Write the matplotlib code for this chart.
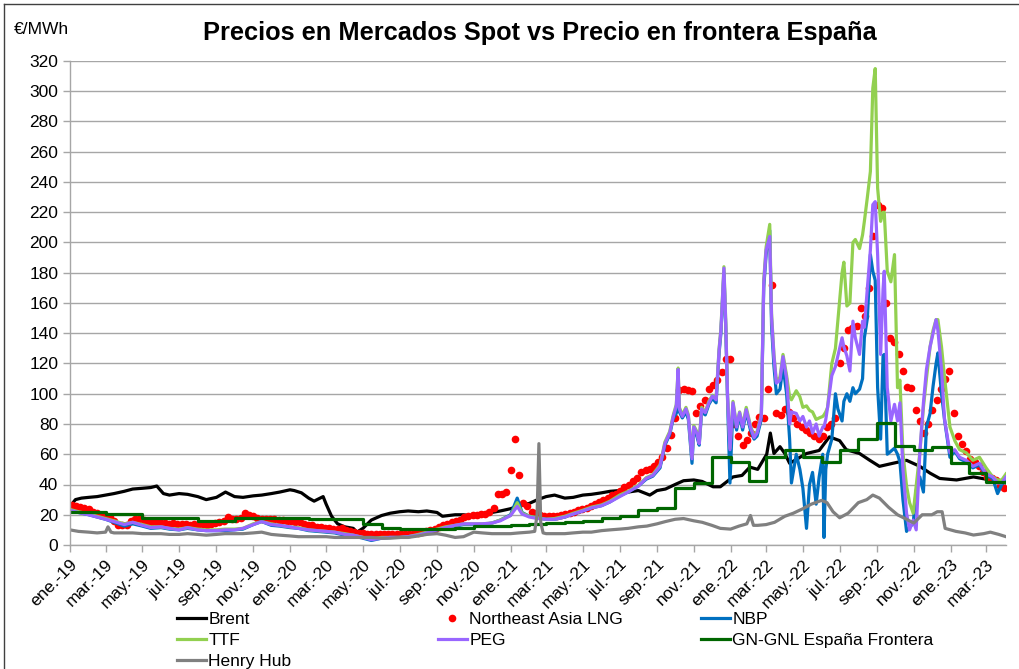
import matplotlib
matplotlib.use('Agg')
import matplotlib.pyplot as plt
import pandas as pd
from matplotlib.lines import Line2D

plt.rcParams['font.family'] = ['Liberation Sans', 'DejaVu Sans']

# ---------------- DATA ----------------
title = 'Precios en Mercados Spot vs Precio en frontera España'
unit_label = '€/MWh'

tick_dates = ['2019-01-01', '2019-03-01', '2019-05-01', '2019-07-01', '2019-09-01', '2019-11-01',
              '2020-01-01', '2020-03-01', '2020-05-01', '2020-07-01', '2020-09-01', '2020-11-01',
              '2021-01-01', '2021-03-01', '2021-05-01', '2021-07-01', '2021-09-01', '2021-11-01',
              '2022-01-01', '2022-03-01', '2022-05-01', '2022-07-01', '2022-09-01', '2022-11-01',
              '2023-01-01', '2023-03-01']
tick_labels = ['ene.-19', 'mar.-19', 'may.-19', 'jul.-19', 'sep.-19', 'nov.-19',
               'ene.-20', 'mar.-20', 'may.-20', 'jul.-20', 'sep.-20', 'nov.-20',
               'ene.-21', 'mar.-21', 'may.-21', 'jul.-21', 'sep.-21', 'nov.-21',
               'ene.-22', 'mar.-22', 'may.-22', 'jul.-22', 'sep.-22', 'nov.-22',
               'ene.-23', 'mar.-23']

# Brent
brent_dates = ['2019-01-01', '2019-01-10', '2019-01-20', '2019-02-01', '2019-02-15', '2019-03-01', '2019-03-15',
               '2019-04-01', '2019-04-15', '2019-05-01', '2019-05-15', '2019-05-25', '2019-06-05', '2019-06-15',
               '2019-07-01', '2019-07-15', '2019-08-01', '2019-08-15', '2019-09-01', '2019-09-16', '2019-10-01',
               '2019-10-15', '2019-11-01', '2019-11-15', '2019-12-01', '2019-12-15', '2020-01-01', '2020-01-08',
               '2020-01-20', '2020-02-01', '2020-02-10', '2020-02-25', '2020-03-01', '2020-03-10', '2020-03-20',
               '2020-04-01', '2020-04-15', '2020-04-21', '2020-05-01', '2020-05-15', '2020-06-01', '2020-06-15',
               '2020-07-01', '2020-07-15', '2020-08-01', '2020-08-15', '2020-09-01', '2020-09-10', '2020-10-01',
               '2020-10-15', '2020-11-01', '2020-11-15', '2020-12-01', '2020-12-15', '2021-01-01', '2021-01-15',
               '2021-02-01', '2021-02-15', '2021-03-01', '2021-03-15', '2021-04-01', '2021-04-15', '2021-05-01',
               '2021-05-15', '2021-06-01', '2021-06-15', '2021-07-01', '2021-07-15', '2021-08-01', '2021-08-20',
               '2021-09-01', '2021-09-15', '2021-10-01', '2021-10-15', '2021-11-01', '2021-11-15', '2021-12-03',
               '2021-12-15', '2022-01-05', '2022-01-20', '2022-02-02', '2022-02-15', '2022-03-02', '2022-03-08',
               '2022-03-14', '2022-03-24', '2022-04-01', '2022-04-09', '2022-05-07', '2022-05-28', '2022-06-14',
               '2022-07-01', '2022-07-12', '2022-08-03', '2022-08-20', '2022-09-05', '2022-09-27', '2022-10-20',
               '2022-11-11', '2022-11-28', '2022-12-14', '2023-01-11', '2023-02-08', '2023-03-08', '2023-04-03']
brent_vals = [25.5, 30, 31, 31.5, 32, 33, 34,
              35.5, 37, 37.5, 38, 39, 34, 33,
              34, 33.5, 32, 30, 31.5, 35, 32,
              31.5, 32.5, 33, 34, 35, 36.5, 36,
              34.5, 31, 29, 32, 27, 19, 14,
              12, 11, 8.5, 11, 16.5, 19.5, 21,
              22, 22.5, 22, 22.5, 21.5, 19, 20,
              20, 19, 20.5, 21.5, 22.5, 24, 26,
              27.5, 30, 32, 33, 31, 31.5, 33,
              33.5, 34.5, 35.5, 36, 35, 36, 33,
              36, 37, 40, 42.5, 43, 42, 38.5,
              38.5, 45, 46, 51.5, 50, 60, 74,
              60.5, 65, 60.5, 54, 60.5, 62.5, 71.5,
              69, 63, 60.5, 56, 52, 54, 56,
              52, 47.5, 44, 43, 45, 43, 41]

# Northeast Asia LNG (weekly, Fridays from 2019-01-04)
lng_2019 = [26.5, 25.5, 25, 24.5, 23.5, 22, 21, 20, 19.5, 18.5, 16, 13.5, 13,
            13.5, 16, 17, 17, 16.5, 15.5, 15.5, 15, 15, 14.5, 14, 14.5, 14,
            14, 14, 13.5, 14, 13.5, 14, 13.5, 14, 14.5, 15, 16, 18.5, 17.5,
            17.5, 18, 21, 20, 19, 18, 17.5, 17.5, 17, 17, 16.5, 16.5, 16]
lng_2020 = [16, 15.5, 15, 14, 13.5, 13, 12, 12, 11.5, 11, 10.5, 10.5, 11,
            10, 9, 8.5, 8, 8, 7.5, 7.5, 7, 7, 7, 7, 7.5, 7.5,
            7.5, 7.5, 7.5, 8, 8, 8.5, 9, 10, 10.5, 12, 13, 14, 15,
            16, 16.5, 18.5, 19.5, 20, 20, 20.5, 20.5, 22, 24.5, 33.5, 34, 35]
lng_2021 = [49.5, 70, 46.5, 28, 25.5, 21.5, 21, 20, 19, 19, 19.5, 19.5, 20,
            20.5, 21, 22, 23, 24, 24.5, 25.5, 27, 28.5, 29.5, 31, 33, 34,
            36, 38.5, 40, 42, 44, 48, 49.5, 50.5, 52, 55, 58.5, 64, 73,
            84, 102.5, 103, 102.5, 101.5, 87.5, 92, 96, 103, 106, 109, 114.5, 123, 123]
lng_2022 = [80, 72, 66, 69.5, 74, 80, 84.5, 84, 103, 172, 87, 86,
            90, 88, 84, 80, 78, 76, 74, 72, 70, 72, 78, 80, 84,
            120, 130, 142, 143.5, 145, 156.5, 151.5, 170, 204.5, 225, 223, 160, 137, 134,
            126, 115, 104.5, 103.5, 89, 82, 74, 80, 89, 96, 103, 110, 115]
lng_2023 = [87, 72, 67, 62, 57, 55, 52, 48, 45, 44, 43, 39, 38]

# Gas hubs: TTF, PEG, NBP
hub_dates = ['2019-01-01', '2019-01-15', '2019-02-01', '2019-02-15', '2019-03-01', '2019-03-15', '2019-04-01',
             '2019-04-15', '2019-05-01', '2019-05-15', '2019-06-01', '2019-06-15', '2019-07-01', '2019-07-15',
             '2019-08-01', '2019-08-15', '2019-09-01', '2019-09-15', '2019-10-01', '2019-10-15', '2019-11-01',
             '2019-11-15', '2019-12-01', '2019-12-15', '2020-01-01', '2020-01-15', '2020-02-01', '2020-02-15',
             '2020-03-01', '2020-03-15', '2020-04-01', '2020-04-15', '2020-05-01', '2020-05-15', '2020-06-01',
             '2020-06-15', '2020-07-01', '2020-07-15', '2020-08-01', '2020-08-15', '2020-09-01', '2020-09-15',
             '2020-10-01', '2020-10-15', '2020-11-01', '2020-11-15', '2020-12-01', '2020-12-15', '2021-01-01',
             '2021-01-12', '2021-01-20', '2021-02-01', '2021-02-15', '2021-03-01', '2021-03-15', '2021-04-01',
             '2021-04-15', '2021-05-01', '2021-05-15', '2021-06-01', '2021-06-15', '2021-07-01', '2021-07-15',
             '2021-08-01', '2021-08-14', '2021-08-25', '2021-09-06', '2021-09-14', '2021-09-22', '2021-09-28',
             '2021-10-03', '2021-10-06', '2021-10-08', '2021-10-13', '2021-10-19', '2021-10-23', '2021-10-29',
             '2021-11-01', '2021-11-06', '2021-11-10', '2021-11-14', '2021-11-20', '2021-11-26', '2021-12-02',
             '2021-12-08', '2021-12-13', '2021-12-16', '2021-12-21', '2021-12-24', '2021-12-27', '2021-12-31',
             '2022-01-05', '2022-01-11', '2022-01-16', '2022-01-21', '2022-01-27', '2022-02-03', '2022-02-09',
             '2022-02-14', '2022-02-21', '2022-02-25', '2022-03-01', '2022-03-07', '2022-03-10', '2022-03-14',
             '2022-03-18', '2022-03-24', '2022-03-29', '2022-04-04', '2022-04-09', '2022-04-12', '2022-04-20',
             '2022-04-26', '2022-05-01', '2022-05-07', '2022-05-12', '2022-05-17', '2022-05-23', '2022-05-28',
             '2022-06-03', '2022-06-05', '2022-06-08', '2022-06-11', '2022-06-18', '2022-06-24', '2022-06-28',
             '2022-07-05', '2022-07-08', '2022-07-13', '2022-07-18', '2022-07-23', '2022-07-27', '2022-08-03',
             '2022-08-08', '2022-08-11', '2022-08-16', '2022-08-21', '2022-08-25', '2022-08-29', '2022-09-02',
             '2022-09-07', '2022-09-11', '2022-09-13', '2022-09-18', '2022-09-24', '2022-09-30', '2022-10-05',
             '2022-10-09', '2022-10-14', '2022-10-20', '2022-10-25', '2022-10-31', '2022-11-05', '2022-11-11',
             '2022-11-17', '2022-11-22', '2022-11-28', '2022-12-03', '2022-12-08', '2022-12-11', '2022-12-17',
             '2022-12-22', '2022-12-31', '2023-01-08', '2023-01-16', '2023-01-27', '2023-02-07', '2023-02-18',
             '2023-03-01', '2023-03-12', '2023-03-20', '2023-03-27', '2023-04-03']
ttf_vals = [23.5, 22, 20.5, 19, 17.5, 16, 14,
            15, 13.5, 12, 12, 11, 10.5, 11.5,
            10.5, 10, 10, 10.5, 10.5, 11, 14,
            15.5, 14, 13, 12, 11.5, 10, 9.5,
            9, 8.5, 7.5, 6.5, 5, 4, 5,
            5, 5, 5.5, 7, 8.5, 10.5, 12,
            13, 14, 14, 14, 14.5, 16.5, 19.5,
            28, 21, 19, 18, 17, 17.5, 19,
            21, 23, 25, 26.5, 29, 33, 35.5,
            39.5, 44.5, 46.5, 53, 68, 75, 86,
            93, 117, 91, 86, 91, 86, 58,
            79, 75, 68, 91, 88, 95, 99,
            97, 130, 143, 184, 148, 99, 64,
            95, 79, 88, 79, 91, 79, 72,
            75, 86, 175, 197, 212, 153, 126,
            108, 111, 126, 112, 98, 96, 102,
            98, 91, 92, 89, 88, 83, 84,
            85, 86, 88, 91, 120, 130, 148,
            180, 187, 158, 160, 200, 202, 196,
            205, 214, 230, 247, 302, 315, 236,
            214, 220, 220, 181, 174, 192, 104,
            109, 61, 39, 28, 21, 39, 61,
            91, 110, 131, 142, 149, 149, 131,
            111, 78, 69, 63, 61, 56, 58,
            51, 45, 43, 43, 47]
peg_vals = [23, 21.5, 20, 18.5, 17, 15.5, 13.5,
            15, 13, 11.5, 12, 11, 10, 11.5,
            10, 9.5, 9.5, 10, 10, 11, 13.5,
            15.5, 13.5, 13, 12, 11, 10, 9.5,
            9, 8.5, 7, 6.5, 5, 3.5, 4.5,
            5, 5, 5.5, 6.5, 8, 10, 11.5,
            13, 14, 14, 14, 14.5, 16, 19.5,
            25.5, 20.5, 18.5, 17.5, 17, 17, 18.5,
            20.5, 22.5, 24.5, 26, 28.5, 32, 35,
            39, 44, 46, 52, 67, 74, 85,
            92, 116, 90, 85, 90, 85, 57,
            78, 74, 67, 90, 87.5, 94, 98.5,
            96, 129, 142, 183, 146.5, 98.5, 63,
            94, 78, 87.5, 78, 89.5, 78, 71,
            74, 85, 173, 195, 204, 151, 124.5,
            107, 109, 124.5, 110, 80, 88, 87,
            82, 85, 78, 82, 74, 80, 72,
            78, 78, 83, 91, 112, 118, 125,
            137, 131, 125, 115, 148, 137, 126,
            148, 144, 170, 195, 225, 227, 192,
            126, 169, 181, 104, 82, 93, 82,
            94, 50, 21, 10, 16.5, 10, 61,
            94, 116, 131, 140, 149, 142, 116,
            83, 61, 63, 58, 56, 52, 54,
            47, 45, 41, 41, 45]
nbp_vals = [23, 21.5, 20, 18.5, 17, 15, 12.5,
            14, 12.5, 11, 11.5, 10.5, 10, 11,
            10, 9.5, 9.5, 9.5, 10, 10.5, 13.5,
            15.5, 13, 12.5, 11.5, 11, 9.5, 9,
            8.5, 8, 6.5, 6, 4.5, 3, 4.5,
            5, 5, 5.5, 6.5, 8, 10, 11,
            12.5, 13.5, 13.5, 13.5, 14.5, 16.5, 20,
            31, 21.5, 19, 18, 17, 17, 18.5,
            20.5, 22.5, 24.5, 26, 28.5, 32.5, 35,
            39, 43.5, 45.5, 51, 66, 73, 84,
            87, 112, 88, 84, 88, 83, 54,
            76, 72, 66, 88, 86, 93, 97,
            94, 127, 140, 180, 144, 96, 41,
            92, 76, 86, 76, 88, 76, 70,
            72, 83, 170, 192, 208, 145, 118,
            100, 103, 118, 100, 70, 41, 60,
            50, 37.5, 11, 40, 48, 27, 45,
            60, 5, 50, 60, 70, 100, 90,
            82, 95, 100, 95, 104, 100, 103,
            110, 137, 150, 192, 181, 175, 104,
            70, 125, 126, 60, 62, 64, 60,
            55, 30, 9, 12, 14, 36, 45,
            35, 78, 87, 105, 120, 127, 100,
            83, 58, 62, 57, 55, 51, 53,
            46, 44, 34, 40, 43]

# GN-GNL España Frontera (monthly step)
gn_dates = ['2019-01-01', '2019-02-01', '2019-03-01', '2019-04-01', '2019-05-01', '2019-06-01', '2019-07-01',
            '2019-08-01', '2019-09-01', '2019-10-01', '2019-11-01', '2019-12-01', '2020-01-01', '2020-02-01',
            '2020-03-01', '2020-04-01', '2020-05-01', '2020-06-01', '2020-07-01', '2020-08-01', '2020-09-01',
            '2020-10-01', '2020-11-01', '2020-12-01', '2021-01-01', '2021-02-01', '2021-03-01', '2021-04-01',
            '2021-05-01', '2021-06-01', '2021-07-01', '2021-08-01', '2021-09-01', '2021-10-01', '2021-11-01',
            '2021-12-01', '2022-01-01', '2022-02-01', '2022-03-01', '2022-04-01', '2022-05-01', '2022-06-01',
            '2022-07-01', '2022-08-01', '2022-09-01', '2022-10-01', '2022-11-01', '2022-12-01', '2023-01-01',
            '2023-02-01', '2023-03-01', '2023-04-03']
gn_vals = [21.5, 21.5, 20.5, 20.5, 18, 18, 18,
           16, 16, 18, 18, 18, 18, 17,
           17, 17, 14, 11.5, 10.5, 10.5, 10.5,
           11.5, 12.5, 12.5, 13.5, 14, 14.5, 15,
           16, 18, 19.5, 23, 24.5, 37.5, 41,
           58, 55, 42, 58, 62.5, 58.5, 55,
           62.5, 70, 80.5, 65.5, 62.5, 65, 54,
           47.5, 41.5, 41.5]

# Henry Hub
hh_dates = ['2019-01-01', '2019-01-15', '2019-02-01', '2019-02-15', '2019-03-01', '2019-03-05', '2019-03-10',
            '2019-03-15', '2019-04-01', '2019-04-15', '2019-05-01', '2019-05-15', '2019-06-01', '2019-06-15',
            '2019-07-01', '2019-07-15', '2019-08-01', '2019-08-15', '2019-09-01', '2019-09-15', '2019-10-01',
            '2019-10-15', '2019-11-01', '2019-11-15', '2019-12-01', '2019-12-15', '2020-01-01', '2020-01-15',
            '2020-02-01', '2020-02-15', '2020-03-01', '2020-03-15', '2020-04-01', '2020-04-15', '2020-05-01',
            '2020-05-15', '2020-06-01', '2020-06-15', '2020-07-01', '2020-07-15', '2020-08-01', '2020-08-15',
            '2020-09-01', '2020-09-15', '2020-10-01', '2020-10-15', '2020-11-01', '2020-11-15', '2020-12-01',
            '2020-12-15', '2021-01-01', '2021-01-15', '2021-02-01', '2021-02-10', '2021-02-14', '2021-02-17',
            '2021-02-20', '2021-02-24', '2021-03-01', '2021-03-15', '2021-04-01', '2021-04-15', '2021-05-01',
            '2021-05-15', '2021-06-01', '2021-06-15', '2021-07-01', '2021-07-15', '2021-08-01', '2021-08-15',
            '2021-09-01', '2021-09-15', '2021-10-01', '2021-10-15', '2021-11-01', '2021-11-15', '2021-12-01',
            '2021-12-15', '2022-01-01', '2022-01-15', '2022-01-28', '2022-02-03', '2022-02-08', '2022-02-15',
            '2022-03-01', '2022-03-15', '2022-04-01', '2022-04-15', '2022-05-01', '2022-05-15', '2022-06-01',
            '2022-06-10', '2022-06-20', '2022-07-01', '2022-07-15', '2022-08-01', '2022-08-15', '2022-08-25',
            '2022-09-05', '2022-09-20', '2022-10-05', '2022-10-20', '2022-11-01', '2022-11-15', '2022-12-01',
            '2022-12-10', '2022-12-18', '2022-12-23', '2023-01-10', '2023-01-25', '2023-02-08', '2023-02-25',
            '2023-03-08', '2023-03-22', '2023-04-03']
hh_vals = [10, 9, 8.5, 8, 8.5, 12, 8.5,
           8, 8, 8, 7.5, 7.5, 7.5, 7,
           7, 7.5, 7, 6.5, 7, 7.5, 7.5,
           7.5, 8, 8.5, 7, 6.5, 6, 5.5,
           5.5, 5.5, 5.5, 5, 5, 5, 5,
           5, 4.5, 4.5, 5, 5, 6, 7,
           7.5, 6.5, 5, 5.5, 8.5, 8, 7.5,
           7.5, 7.5, 8, 8.5, 9, 20, 67,
           15, 8, 7.5, 7.5, 7.5, 8, 8.5,
           8.5, 9.5, 10, 10.5, 11, 12, 12.5,
           14, 15.5, 17, 17.5, 16, 15, 13,
           11, 10.5, 12.5, 14, 19.5, 13, 13,
           13.5, 15, 19, 21, 24, 27, 29.5,
           28, 22, 18, 21, 28, 30, 33,
           31, 25, 20, 17, 14.5, 20, 20,
           22, 22, 11, 9, 8, 6.6, 7.5,
           8.5, 7, 5.5]

series_labels = ['Brent', 'Northeast Asia LNG', 'NBP', 'TTF', 'PEG', 'GN-GNL España Frontera', 'Henry Hub']
series_colors = ['#000000', '#ff0000', '#0070c0', '#92d050', '#9966ff', '#006600', '#808080']

# ---------------- PLOT ----------------
W, H = 1019, 669
fig = plt.figure(figsize=(W / 100, H / 100), dpi=100)
ax = fig.add_axes([70 / W, 124 / H, 936 / W, 484 / H])

lng_vals = lng_2019 + lng_2020 + lng_2021 + lng_2022 + lng_2023
lng_dates = pd.date_range('2019-01-04', periods=len(lng_vals), freq='7D')

lw = 2.3
h_brent, = ax.plot(pd.to_datetime(brent_dates), brent_vals, color=series_colors[0], lw=lw)
h_lng, = ax.plot(lng_dates, lng_vals, 'o', color=series_colors[1], ms=5.5, mec='none', ls='none')
hd = pd.to_datetime(hub_dates)
h_nbp, = ax.plot(hd, nbp_vals, color=series_colors[2], lw=lw)
h_ttf, = ax.plot(hd, ttf_vals, color=series_colors[3], lw=lw)
h_peg, = ax.plot(hd, peg_vals, color=series_colors[4], lw=lw)
h_gn, = ax.step(pd.to_datetime(gn_dates), gn_vals, where='post', color=series_colors[5], lw=lw)
h_hh, = ax.plot(pd.to_datetime(hh_dates), hh_vals, color=series_colors[6], lw=lw)

ax.set_xlim(pd.Timestamp('2019-01-01'), pd.Timestamp('2023-04-03'))
ax.set_ylim(0, 320)
ax.set_yticks(range(0, 321, 20))
ax.yaxis.grid(True, color='#a6a6a6', lw=1)
ax.set_axisbelow(True)
for s in ['top', 'right']:
    ax.spines[s].set_visible(False)
for s in ['left', 'bottom']:
    ax.spines[s].set_color('#a6a6a6')
    ax.spines[s].set_linewidth(1)
ax.tick_params(axis='both', colors='#a6a6a6', labelcolor='black', labelsize=12.5, length=5, width=1)
ax.set_xticks(pd.to_datetime(tick_dates))
ax.set_xticklabels(tick_labels, rotation=45, ha='right', va='top', rotation_mode='anchor')

fig.text(540 / W, 1 - 33 / H, title, ha='center', va='center', fontsize=18.3, fontweight='bold')
fig.text(14 / W, 1 - 30 / H, unit_label, ha='left', va='center', fontsize=12.5)

# legend: three columns placed separately
cols = [([h_brent, h_ttf, h_hh], [series_labels[0], series_labels[3], series_labels[6]], 177),
        ([h_lng, h_peg], [series_labels[1], series_labels[4]], 438),
        ([h_nbp, h_gn], [series_labels[2], series_labels[5]], 701)]
for handles, labels, x0 in cols:
    fig.legend(handles, labels, loc='upper left', bbox_to_anchor=(x0 / W, 1 - 612 / H),
               frameon=False, fontsize=12.5, handlelength=1.65, handletextpad=0.15,
               labelspacing=0.33, borderpad=0, borderaxespad=0, numpoints=1)

# chart border
fig.add_artist(Line2D([4 / W, 4 / W], [0, 1 - 4 / H], color='#404040', lw=1))
fig.add_artist(Line2D([4 / W, 1], [1 - 4 / H, 1 - 4 / H], color='#404040', lw=1))

fig.savefig('out.png', dpi=100)
